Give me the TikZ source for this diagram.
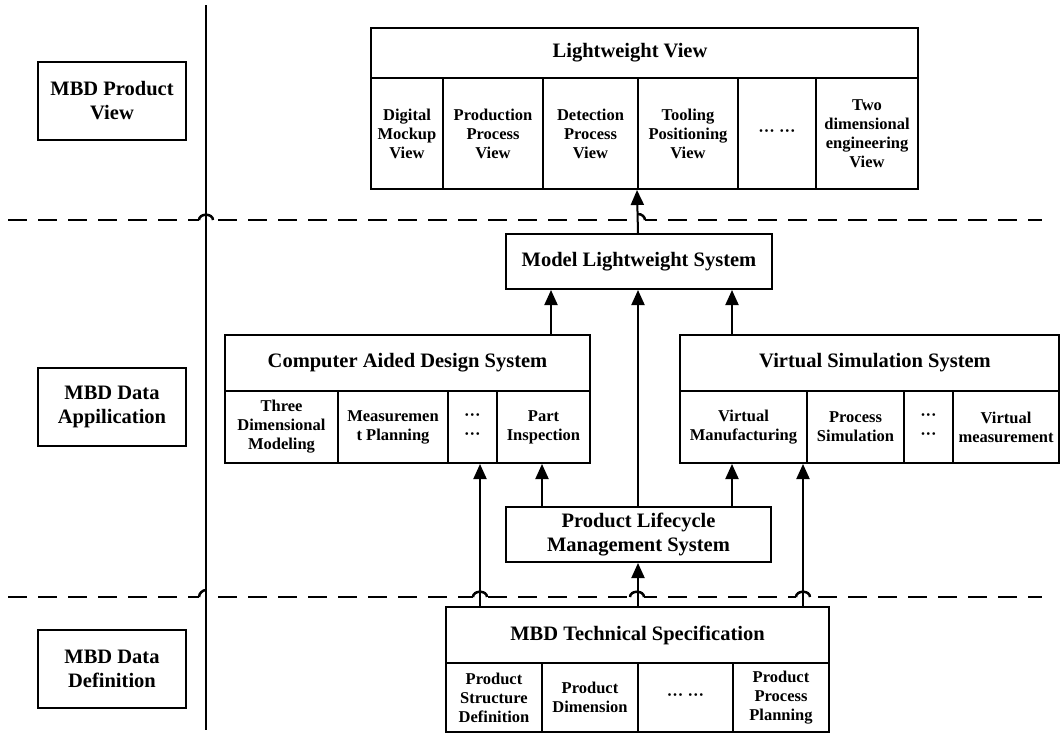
\documentclass[tikz,border=0pt]{standalone}
\usepackage{fontspec}
\setmainfont{Liberation Serif}
\usetikzlibrary{arrows.meta,calc}
\tikzset{
  cellbox/.style={draw, line width=2pt, inner sep=0pt, align=center,
    font=\bfseries\fontsize{16.5}{19}\selectfont},
  titlebox/.style={cellbox, font=\bfseries\fontsize{20.5}{24}\selectfont},
  labelbox/.style={cellbox, font=\bfseries\fontsize{20.5}{24}\selectfont},
  titletext/.style={inner sep=0pt, font=\bfseries\fontsize{20.5}{24}\selectfont},
  conn/.style={line width=2pt, -{Triangle[length=15pt,width=13pt]}},
  sepline/.style={line width=2.5pt, dash pattern=on 19pt off 11pt},
  hopline/.style={line width=2.5pt},
  eraser/.style={line width=5pt, white},
  axis/.style={line width=2pt},
}
% style, name, x1, y1, x2, y2, text
\newcommand\mkbox[7]{%
  \node[#1, minimum width={(#5-#3)*1pt}, minimum height={(#6-#4)*1pt}] (#2)
    at ({(#3+#5)/2},{(#4+#6)/2}) {#7};}
\begin{document}
\begin{tikzpicture}[x=1pt,y=-1pt]
\useasboundingbox (0,0) rectangle (1061,734);

% layer separators
\coordinate (s1a) at (8,220);  \coordinate (s1b) at (1042,220);
\coordinate (s2a) at (8,597);  \coordinate (s2b) at (1042,597);
\draw[sepline] (s1a) -- (s1b);
\draw[sepline] (s2a) -- (s2b);
% erase under hops
\draw[eraser] (199,220) -- (213,220);
\draw[eraser] (638,220) -- (645,220);
\draw[eraser] (199,597) -- (213,597);
\draw[eraser] (473,597) -- (487,597);
\draw[eraser] (630,597) -- (644,597);
\draw[eraser] (796,597) -- (810,597);

% vertical axis
\coordinate (vtop) at (206,5);
\coordinate (vbot) at (206,730);
\draw[axis] (vtop) -- (vbot);

% left labels
\mkbox{labelbox}{lpv}{38}{62}{186}{140}{MBD Product\\View}
\mkbox{labelbox}{lda}{38}{368}{186}{446}{MBD Data\\Appilication}
\mkbox{labelbox}{ldd}{38}{630}{186}{708}{MBD Data\\Definition}

% Lightweight view
\mkbox{titlebox}{lv}{371}{28}{918}{78}{}
\node[titletext] (lvt) at (630,53) {Lightweight View};
\mkbox{cellbox}{lv1}{371}{78}{443}{189}{Digital\\Mockup\\View}
\mkbox{cellbox}{lv2}{443}{78}{543}{189}{Production\\Process\\View}
\mkbox{cellbox}{lv3}{543}{78}{638}{189}{Detection\\Process\\View}
\mkbox{cellbox}{lv4}{638}{78}{738}{189}{Tooling\\Positioning\\View}
\mkbox{cellbox}{lv5}{738}{78}{816}{189}{··· ···}
\mkbox{cellbox}{lv6}{816}{78}{918}{189}{Two\\dimensional\\engineering\\View}

% Model lightweight system
\mkbox{titlebox}{mls}{506}{234}{772}{289}{Model Lightweight System}

% CAD
\mkbox{titlebox}{cad}{225}{335}{590}{391}{Computer Aided Design System}
\mkbox{cellbox}{cad1}{225}{391}{338}{463}{Three\\Dimensional\\Modeling}
\mkbox{cellbox}{cad2}{338}{391}{448}{463}{Measuremen\\t Planning}
\mkbox{cellbox}{cad3}{448}{391}{497}{463}{···\\···}
\mkbox{cellbox}{cad4}{497}{391}{590}{463}{Part\\Inspection}

% VSS
\mkbox{titlebox}{vssbox}{680}{335}{1059}{391}{}
\node[titletext] (vss) at (875,363) {Virtual Simulation System};
\mkbox{cellbox}{vss1}{680}{391}{807}{463}{Virtual\\Manufacturing}
\mkbox{cellbox}{vss2}{807}{391}{904}{463}{Process\\Simulation}
\mkbox{cellbox}{vss3}{904}{391}{953}{463}{···\\···}
\mkbox{cellbox}{vss4}{953}{391}{1059}{463}{Virtual\\measurement}

% PLM
\mkbox{titlebox}{plm}{506}{507}{771}{562}{Product Lifecycle\\Management System}

% MBD technical specification
\mkbox{titlebox}{ts}{446}{607}{829}{663}{MBD Technical Specification}
\mkbox{cellbox}{ts1}{446}{663}{542}{732}{Product\\Structure\\Definition}
\mkbox{cellbox}{ts2}{542}{663}{638}{732}{Product\\Dimension}
\mkbox{cellbox}{ts3}{638}{663}{733}{732}{··· ···}
\mkbox{cellbox}{ts4}{733}{663}{829}{732}{Product\\Process\\Planning}

% x positions of connectors
\coordinate (xa) at (480,0);
\coordinate (xb) at (542,0);
\coordinate (xc) at (551,0);
\coordinate (xd) at (638,0);
\coordinate (xe) at (732,0);
\coordinate (xf) at (803,0);

% connectors
\draw[conn] (mls.north -| xd) -- (lv4.south west);
\draw[conn] (cad.north -| xc) -- (mls.south -| xc);
\draw[conn] (plm.north -| xd) -- (mls.south -| xd);
\draw[conn] (vssbox.north -| xe) -- (mls.south -| xe);
\draw[conn] (plm.north -| xb) -- (cad4.south -| xb);
\draw[conn] (plm.north -| xe) -- (vss1.south -| xe);
\draw[conn] (ts.north -| xa) -- (cad3.south -| xa);
\draw[conn] (ts.north -| xd) -- (plm.south -| xd);
\draw[conn] (ts.north -| xf) -- (vss1.south -| xf);

% hops of the separators
\draw[hopline] (199,220) .. controls (199,213) and (213,213) .. (213,220);
\draw[hopline] (638,214) .. controls (642,214) and (645,217) .. (645,220);
\draw[hopline] (199,597) .. controls (199,593) and (203,590) .. (206,590);
\draw[hopline] (473,597) .. controls (473,590) and (487,590) .. (487,597);
\draw[hopline] (630,597) .. controls (630,590) and (644,590) .. (644,597);
\draw[hopline] (796,597) .. controls (796,590) and (810,590) .. (810,597);
\end{tikzpicture}
\end{document}
